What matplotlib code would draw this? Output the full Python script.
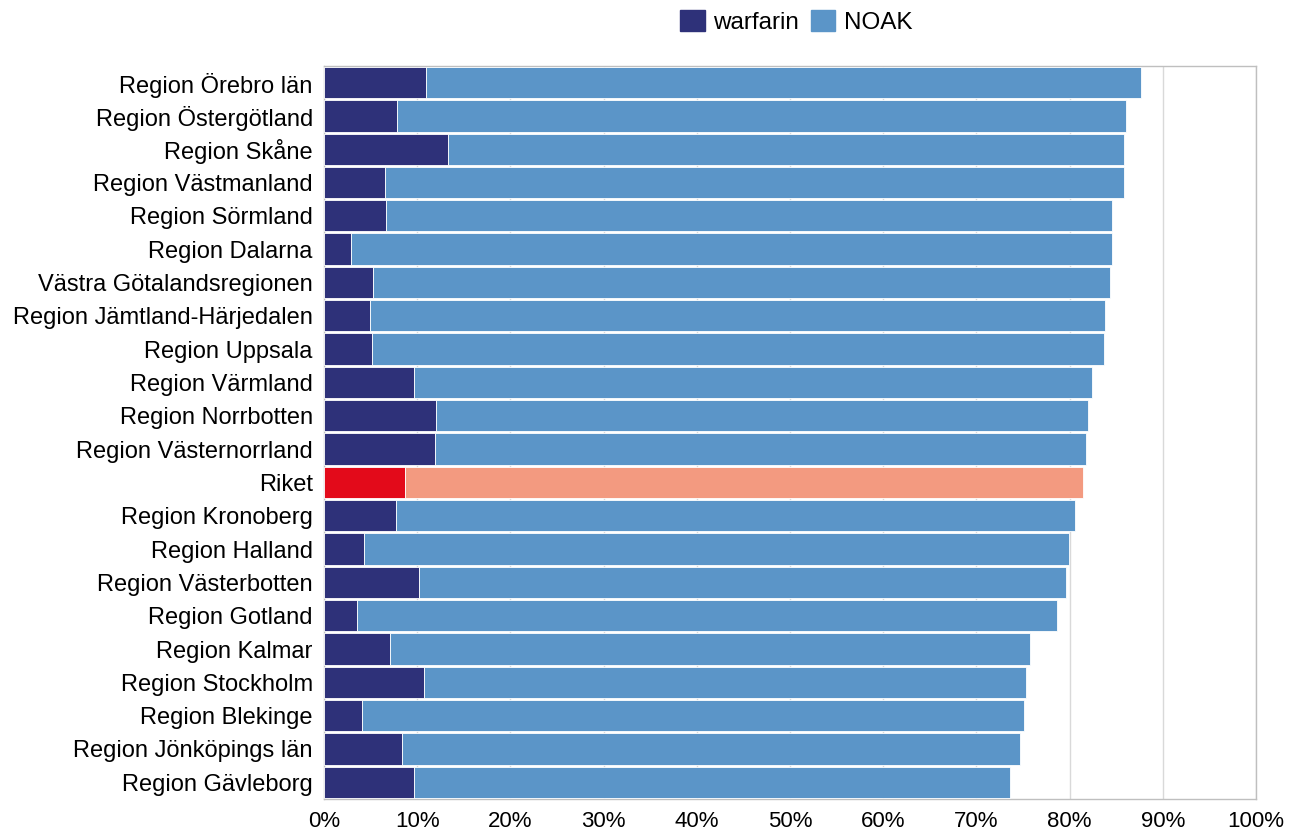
import matplotlib
matplotlib.use("Agg")
import matplotlib.pyplot as plt
from matplotlib.patches import Patch
import numpy as np

plt.rcParams['font.family'] = ['Liberation Sans', 'DejaVu Sans']

regions = [
    "Region Örebro län", "Region Östergötland", "Region Skåne", "Region Västmanland",
    "Region Sörmland", "Region Dalarna", "Västra Götalandsregionen",
    "Region Jämtland-Härjedalen", "Region Uppsala", "Region Värmland",
    "Region Norrbotten", "Region Västernorrland", "Riket", "Region Kronoberg",
    "Region Halland", "Region Västerbotten", "Region Gotland", "Region Kalmar",
    "Region Stockholm", "Region Blekinge", "Region Jönköpings län", "Region Gävleborg",
]
warfarin = [10.9, 7.8, 13.3, 6.6, 6.7, 2.9, 5.3, 4.9, 5.2, 9.7, 12.0, 11.9,
            8.7, 7.7, 4.3, 10.2, 3.5, 7.1, 10.7, 4.1, 8.4, 9.7]
total = [87.7, 86.1, 85.8, 85.8, 84.5, 84.5, 84.3, 83.8, 83.7, 82.4, 82.0, 81.8,
         81.4, 80.6, 79.9, 79.6, 78.6, 75.8, 75.3, 75.1, 74.7, 73.6]
noak = [t - w for t, w in zip(total, warfarin)]
xticks = [0, 10, 20, 30, 40, 50, 60, 70, 80, 90, 100]

c_warf, c_noak = "#2E3179", "#5B95C8"
c_warf_hl, c_noak_hl = "#E30A1A", "#F39A80"

fig = plt.figure(figsize=(12.99, 8.34), dpi=100)
ax = fig.add_axes([0.2494, 0.042, 0.7175, 0.879])

y = np.arange(len(regions))
wc = [c_warf_hl if r == "Riket" else c_warf for r in regions]
nc = [c_noak_hl if r == "Riket" else c_noak for r in regions]
ax.barh(y, warfarin, height=0.94, color=wc, edgecolor="white", linewidth=0.6, zorder=3)
ax.barh(y, noak, left=warfarin, height=0.94, color=nc, edgecolor="white", linewidth=0.6, zorder=3)

ax.set_ylim(len(regions) - 0.5, -0.5)
ax.set_xlim(0, 100)
ax.set_yticks(y)
ax.set_yticklabels(regions, fontsize=17)
ax.set_xticks(xticks)
ax.set_xticklabels([f"{v}%" for v in xticks], fontsize=16)
ax.tick_params(axis="y", length=0, pad=8)
ax.tick_params(axis="x", length=0, pad=9)
ax.xaxis.grid(True, color="#D9D9D9", linewidth=1, zorder=0)
for s in ax.spines.values():
    s.set_color("#BFBFBF")
    s.set_linewidth(1)

handles = [Patch(color=c_warf, label="warfarin"), Patch(color=c_noak, label="NOAK")]
fig.legend(handles=handles, loc="center", bbox_to_anchor=(0.613, 0.974), ncol=2,
           frameon=False, fontsize=17.5, handlelength=1.0, handleheight=1.0,
           handletextpad=0.35, columnspacing=0.5)

fig.savefig("out.png", dpi=100, facecolor="white")
